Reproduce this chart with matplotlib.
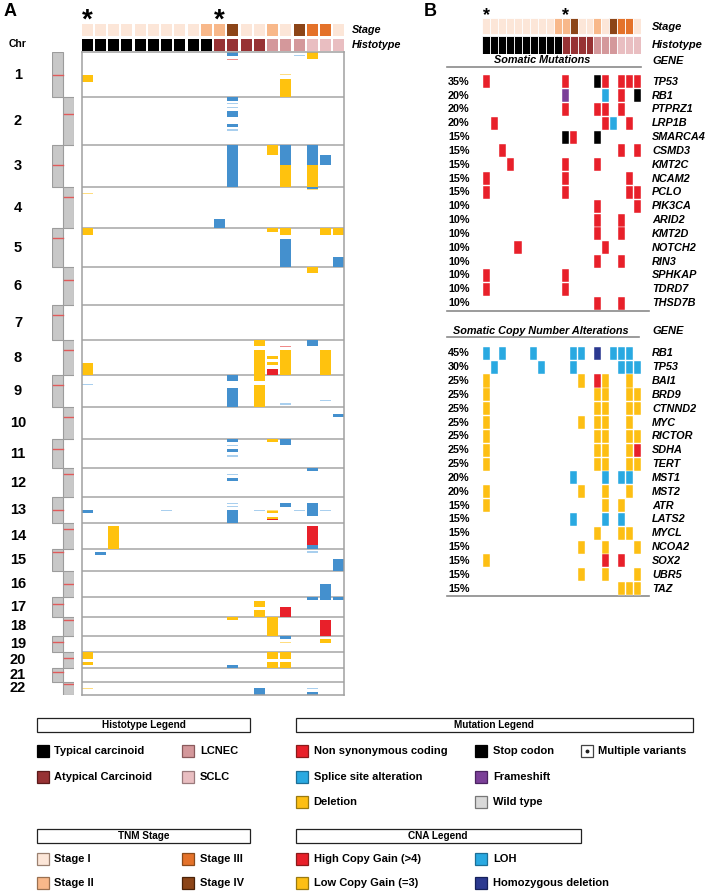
import matplotlib
matplotlib.use('Agg')
import matplotlib.pyplot as plt
from matplotlib.patches import Rectangle
from matplotlib.transforms import blended_transform_factory as blend
import numpy as np

# ---------------- DATA ----------------
n_samples = 20
stage = ['I'] * 9 + ['II', 'II', 'IV', 'I', 'I', 'II', 'I', 'IV', 'III', 'III', 'I']
histotype = ['TC'] * 10 + ['AC'] * 4 + ['LCNEC'] * 3 + ['SCLC'] * 3
asterisk_samples = [0, 10]

# relative drawn size of chromosomes 1..22 and centromere position (fraction)
chrom_size = [45.3, 48, 41.7, 41.3, 38.4, 38.3, 35, 35.3, 32, 32, 29, 28.4,
              26.6, 25.4, 22.3, 26.3, 19.4, 19.3, 16.3, 16, 13.4, 13.3]
centromere = [0.51, 0.35, 0.47, 0.24, 0.26, 0.34, 0.29, 0.27, 0.29, 0.30, 0.33,
              0.21, 0.51, 0.24, 0.13, 0.51, 0.33, 0.16, 0.39, 0.38, 0.25, 0.20]

# CNA segments (chromosome, sample, start frac, end frac, type)
# L=LOH, G=low copy gain, A=high copy gain; lowercase = faint/small
segments = [
    (1, 11, 0.00, 0.08, 'L'), (1, 11, 0.155, 0.175, 'a'), (1, 0, 0.51, 0.66, 'G'),
    (1, 15, 0.49, 0.51, 'g'), (1, 15, 0.59, 1.0, 'G'), (1, 16, 0.066, 0.088, 'l'),
    (1, 17, 0.0, 0.155, 'G'),
    (2, 11, 0.0, 0.07, 'L'), (2, 11, 0.125, 0.145, 'l'), (2, 11, 0.195, 0.215, 'l'),
    (2, 11, 0.28, 0.42, 'L'), (2, 11, 0.55, 0.61, 'L'), (2, 11, 0.667, 0.695, 'l'),
    (3, 11, 0.0, 1.0, 'L'), (3, 14, 0.0, 0.23, 'G'), (3, 15, 0.0, 0.47, 'L'),
    (3, 15, 0.47, 1.0, 'G'), (3, 17, 0.0, 0.47, 'L'), (3, 17, 0.47, 1.0, 'G'),
    (3, 18, 0.24, 0.47, 'L'),
    (4, 0, 0.15, 0.18, 'g'), (4, 10, 0.78, 1.0, 'L'), (4, 17, 0.0, 0.05, 'L'),
    (4, 17, 0.05, 0.07, 'g'),
    (5, 0, 0.0, 0.17, 'G'), (5, 14, 0.0, 0.09, 'G'), (5, 15, 0.0, 0.17, 'G'),
    (5, 15, 0.27, 1.0, 'L'), (5, 18, 0.0, 0.17, 'G'), (5, 19, 0.0, 0.17, 'G'),
    (5, 19, 0.755, 1.0, 'L'),
    (6, 17, 0.0, 0.17, 'G'),
    (8, 0, 0.64, 1.0, 'G'), (8, 13, 0.0, 0.17, 'G'), (8, 13, 0.28, 1.0, 'G'),
    (8, 14, 0.45, 0.55, 'G'), (8, 14, 0.63, 0.72, 'G'), (8, 14, 0.82, 1.0, 'A'),
    (8, 15, 0.16, 0.19, 'a'), (8, 15, 0.28, 1.0, 'G'), (8, 17, 0.0, 0.17, 'L'),
    (8, 18, 0.28, 1.0, 'G'),
    (9, 0, 0.26, 0.29, 'l'), (9, 11, 0.0, 0.19, 'L'), (9, 11, 0.40, 1.0, 'L'),
    (9, 13, 0.0, 0.19, 'G'), (9, 13, 0.30, 1.0, 'G'), (9, 15, 0.875, 0.92, 'l'),
    (9, 18, 0.77, 0.80, 'l'),
    (10, 19, 0.21, 0.30, 'L'),
    (11, 11, 0.0, 0.10, 'L'), (11, 11, 0.19, 0.23, 'l'), (11, 11, 0.345, 0.45, 'L'),
    (11, 11, 0.55, 0.60, 'l'), (11, 14, 0.0, 0.11, 'G'), (11, 15, 0.0, 0.21, 'L'),
    (12, 17, 0.0, 0.10, 'L'), (12, 11, 0.20, 0.25, 'l'), (12, 11, 0.35, 0.45, 'L'),
    (13, 0, 0.50, 0.62, 'L'), (13, 6, 0.49, 0.53, 'l'), (13, 11, 0.24, 0.27, 'l'),
    (13, 11, 0.35, 0.39, 'l'), (13, 11, 0.51, 1.0, 'L'), (13, 13, 0.49, 0.53, 'l'),
    (13, 14, 0.49, 0.54, 'g'), (13, 14, 0.54, 0.62, 'G'), (13, 14, 0.75, 0.83, 'G'),
    (13, 14, 0.83, 0.87, 'A'), (13, 15, 0.25, 0.38, 'L'), (13, 16, 0.49, 0.53, 'l'),
    (13, 17, 0.25, 0.73, 'L'), (13, 18, 0.49, 0.53, 'l'),
    (14, 2, 0.12, 1.0, 'G'), (14, 17, 0.12, 0.87, 'A'), (14, 17, 0.87, 1.0, 'L'),
    (15, 1, 0.16, 0.30, 'L'), (15, 17, 0.12, 0.18, 'l'), (15, 19, 0.45, 1.0, 'L'),
    (16, 18, 0.51, 1.0, 'L'),
    (17, 13, 0.17, 0.50, 'G'), (17, 13, 0.67, 1.0, 'G'), (17, 15, 0.50, 1.0, 'A'),
    (17, 17, 0.0, 0.15, 'L'), (17, 18, 0.0, 0.15, 'L'), (17, 19, 0.0, 0.15, 'L'),
    (18, 11, 0.0, 0.15, 'G'), (18, 14, 0.0, 1.0, 'G'), (18, 18, 0.17, 1.0, 'A'),
    (19, 15, 0.0, 0.18, 'L'), (19, 15, 0.37, 0.43, 'g'), (19, 18, 0.18, 0.41, 'G'),
    (20, 0, 0.0, 0.40, 'G'), (20, 0, 0.58, 0.79, 'G'), (20, 11, 0.79, 1.0, 'L'),
    (20, 14, 0.0, 0.40, 'G'), (20, 14, 0.58, 1.0, 'G'), (20, 15, 0.0, 0.40, 'G'),
    (20, 15, 0.58, 1.0, 'G'),
    (22, 0, 0.45, 0.53, 'g'), (22, 13, 0.50, 1.0, 'L'), (22, 17, 0.45, 0.53, 'l'),
    (22, 17, 0.77, 1.0, 'L'),
]

# Panel B: somatic mutations (N=non synonymous, S=splice, X=stop, F=frameshift)
mut_genes = ['TP53', 'RB1', 'PTPRZ1', 'LRP1B', 'SMARCA4', 'CSMD3', 'KMT2C', 'NCAM2',
             'PCLO', 'PIK3CA', 'ARID2', 'KMT2D', 'NOTCH2', 'RIN3', 'SPHKAP', 'TDRD7', 'THSD7B']
mut_pct = ['35%', '20%', '20%', '20%', '15%', '15%', '15%', '15%', '15%', '10%',
           '10%', '10%', '10%', '10%', '10%', '10%', '10%']
mut_calls = {
    'TP53': {'N': [0, 10, 15, 17, 18, 19], 'X': [14]},
    'RB1': {'F': [10], 'S': [15], 'N': [17], 'X': [19]},
    'PTPRZ1': {'N': [10, 14, 15, 17]},
    'LRP1B': {'N': [1, 15, 18], 'S': [16]},
    'SMARCA4': {'X': [10, 14], 'N': [11]},
    'CSMD3': {'N': [2, 17, 19]},
    'KMT2C': {'N': [3, 10, 14]},
    'NCAM2': {'N': [0, 10, 18]},
    'PCLO': {'N': [0, 10, 18, 19]},
    'PIK3CA': {'N': [14, 19]},
    'ARID2': {'N': [14, 17]},
    'KMT2D': {'N': [14, 17]},
    'NOTCH2': {'N': [4, 15]},
    'RIN3': {'N': [14, 17]},
    'SPHKAP': {'N': [0, 10]},
    'TDRD7': {'N': [0, 10]},
    'THSD7B': {'N': [14, 17]},
}

# Panel B: somatic copy number alterations (L=LOH, G=low gain, A=high gain, H=hom. deletion)
cna_genes = ['RB1', 'TP53', 'BAI1', 'BRD9', 'CTNND2', 'MYC', 'RICTOR', 'SDHA', 'TERT',
             'MST1', 'MST2', 'ATR', 'LATS2', 'MYCL', 'NCOA2', 'SOX2', 'UBR5', 'TAZ']
cna_pct = ['45%', '30%', '25%', '25%', '25%', '25%', '25%', '25%', '25%',
           '20%', '20%', '15%', '15%', '15%', '15%', '15%', '15%', '15%']
cna_calls = {
    'RB1': {'L': [0, 2, 6, 11, 12, 16, 17, 18], 'H': [14]},
    'TP53': {'L': [1, 7, 11, 17, 18, 19]},
    'BAI1': {'G': [0, 12, 15, 18], 'A': [14]},
    'BRD9': {'G': [0, 14, 15, 18, 19]},
    'CTNND2': {'G': [0, 14, 15, 18, 19]},
    'MYC': {'G': [0, 12, 14, 15, 18]},
    'RICTOR': {'G': [0, 14, 15, 18, 19]},
    'SDHA': {'G': [0, 14, 15, 18], 'A': [19]},
    'TERT': {'G': [0, 14, 15, 18, 19]},
    'MST1': {'L': [11, 15, 17, 18]},
    'MST2': {'G': [0, 12, 15, 18]},
    'ATR': {'G': [0, 15, 17]},
    'LATS2': {'L': [11, 15, 17]},
    'MYCL': {'G': [14, 17, 18]},
    'NCOA2': {'G': [12, 15, 19]},
    'SOX2': {'G': [0], 'A': [15, 17]},
    'UBR5': {'G': [12, 15, 19]},
    'TAZ': {'G': [17, 18, 19]},
}

# ---------------- STYLE ----------------
stage_col = {'I': '#FCE6D8', 'II': '#F8B88A', 'III': '#E4722A', 'IV': '#8C4518'}
hist_col = {'TC': '#000000', 'AC': '#973234', 'LCNEC': '#D4989B', 'SCLC': '#E9BEC1'}
seg_col = {'L': '#4490CE', 'G': '#FFC20E', 'A': '#E8202A',
           'l': '#A9CFEE', 'g': '#FFDD80', 'a': '#F08A8A'}
mut_col = {'N': '#E8202A', 'S': '#29A9E1', 'X': '#000000', 'F': '#7B3F98'}
cnaB_col = {'L': '#29A9E1', 'G': '#FDBF14', 'A': '#E8202A', 'H': '#2B3990'}

FONT = ['Liberation Sans', 'DejaVu Sans']
NARROW = ['Liberation Sans Narrow', 'Liberation Sans', 'DejaVu Sans']
plt.rcParams['font.family'] = FONT

W, H = 709, 891
fig = plt.figure(figsize=(W / 100, H / 100), dpi=100)


def px_axes(left, top, width, height):
    ax = fig.add_axes([left / W, 1 - (top + height) / H, width / W, height / H])
    return ax


bg = px_axes(0, 0, W, H)
bg.set_xlim(0, W)
bg.set_ylim(H, 0)
bg.axis('off')

# ---------------- PANEL A ----------------
bar_w = 0.83
sizes = np.array(chrom_size)
starts = np.concatenate([[0], np.cumsum(sizes)[:-1]])
total = sizes.sum()

axA = px_axes(81.7, 52, 262.6, 643)
axA.set_xlim(0, n_samples - 1 + bar_w)
axA.set_ylim(total, 0)
axA.set_xticks([]); axA.set_yticks([])
for sp in axA.spines.values():
    sp.set_color('#A0A0A0'); sp.set_linewidth(1.1)
for (c, s, a, b, t) in segments:
    y0 = starts[c - 1] + a * sizes[c - 1]
    h = max((b - a) * sizes[c - 1], 0.9)
    axA.add_patch(Rectangle((s, y0), bar_w, h, fc=seg_col[t], ec='none', zorder=2))
for y in starts[1:]:
    axA.axhline(y, color='#A6A6A6', lw=1.1, zorder=1)

# ideogram
axI = px_axes(52.3, 52, 22, 643)
axI.set_xlim(0, 2); axI.set_ylim(total, 0); axI.axis('off')
for i in range(22):
    col = i % 2
    axI.add_patch(Rectangle((col, starts[i]), 1, sizes[i], fc='#C8C8C8', ec='#9C9C9C', lw=0.8))
    yc = starts[i] + centromere[i] * sizes[i]
    axI.plot([col + 0.04, col + 0.96], [yc, yc], color='#E05A5A', lw=1.0)

trY = blend(bg.transData, axA.transData)
for i in range(22):
    bg.text(18, starts[i] + sizes[i] / 2, str(i + 1), transform=trY, ha='center',
            va='center', fontsize=10.5, fontweight='bold')
bg.text(18, 44, 'Chr', ha='center', va='center', fontsize=7.5, fontweight='bold')

# stage / histotype A
axSA = px_axes(81.7, 24, 262.6, 27)
axSA.set_xlim(0, n_samples - 1 + bar_w); axSA.set_ylim(1.96, 0); axSA.axis('off')
for i in range(n_samples):
    axSA.add_patch(Rectangle((i, 0), bar_w, 0.84, fc=stage_col[stage[i]], ec='none'))
    axSA.add_patch(Rectangle((i, 1.12), bar_w, 0.84, fc=hist_col[histotype[i]], ec='none'))
trXA = blend(axSA.transData, bg.transData)
for s in asterisk_samples:
    bg.text(s + bar_w / 2, 21, '*', transform=trXA, ha='center', va='center',
            fontsize=20, fontweight='bold')
bg.text(352, 30, 'Stage', ha='left', va='center', fontsize=7.8, fontweight='bold', style='italic')
bg.text(352, 45.5, 'Histotype', ha='left', va='center', fontsize=7.8, fontweight='bold', style='italic')
bg.text(4, 11, 'A', ha='left', va='center', fontsize=13, fontweight='bold')

# ---------------- PANEL B ----------------
bx0, bw = 482.3, 158.8
axSB = px_axes(bx0, 18, bw, 35.5)
axSB.set_xlim(0, n_samples); axSB.set_ylim(2, 0); axSB.axis('off')
for i in range(n_samples):
    axSB.add_patch(Rectangle((i, 0), 1, 0.88, fc=stage_col[stage[i]], ec='white', lw=0.6))
    axSB.add_patch(Rectangle((i, 1.0), 1, 1.0, fc=hist_col[histotype[i]], ec='white', lw=0.6))
trXB = blend(axSB.transData, bg.transData)
for s in asterisk_samples:
    bg.text(s + 0.5, 16, '*', transform=trXB, ha='center', va='center',
            fontsize=13, fontweight='bold')
bg.text(424, 11, 'B', ha='left', va='center', fontsize=13, fontweight='bold')
bg.text(652, 27, 'Stage', ha='left', va='center', fontsize=8, fontweight='bold', style='italic')
bg.text(652, 45.5, 'Histotype', ha='left', va='center', fontsize=8, fontweight='bold', style='italic')


def grid_block(top, genes, pct, calls, colors):
    ax = px_axes(bx0, top, bw, 13.84 * len(genes))
    ax.set_xlim(0, n_samples); ax.set_ylim(len(genes), 0); ax.axis('off')
    for r, g in enumerate(genes):
        for code, cols in calls[g].items():
            for c in cols:
                ax.add_patch(Rectangle((c + 0.05, r + 0.03), 0.9, 0.94,
                                       fc=colors[code], ec='white', lw=0.3))
    tr = blend(bg.transData, ax.transData)
    for r, g in enumerate(genes):
        bg.text(448, r + 0.5, pct[r], transform=tr, ha='left', va='center',
                fontsize=7.8, fontweight='bold')
        bg.text(652, r + 0.5, g, transform=tr, ha='left', va='center',
                fontsize=7.8, fontweight='bold', style='italic')
    return ax


grid_block(74.8, mut_genes, mut_pct, mut_calls, mut_col)
grid_block(346.4, cna_genes, cna_pct, cna_calls, cnaB_col)

line_kw = dict(color='#8A8A8A', lw=1.2)
bg.plot([446.7, 641], [66.7, 66.7], **line_kw)
bg.plot([446.7, 649.3], [310.7, 310.7], **line_kw)
bg.plot([446.7, 639], [337.3, 337.3], **line_kw)
bg.plot([446.7, 649.3], [596, 596], **line_kw)
bg.text(542, 60, 'Somatic Mutations', ha='center', va='center', fontsize=7.8,
        fontweight='bold', style='italic')
bg.text(541, 331, 'Somatic Copy Number Alterations', ha='center', va='center',
        fontsize=7.8, fontweight='bold', style='italic')
bg.text(652, 61, 'GENE', ha='left', va='center', fontsize=8, fontweight='bold', style='italic')
bg.text(652, 331, 'GENE', ha='left', va='center', fontsize=8, fontweight='bold', style='italic')

# ---------------- LEGENDS ----------------
def legend_box(x0, x1, y0, y1, title):
    bg.add_patch(Rectangle((x0, y0), x1 - x0, y1 - y0, fc='white', ec='#222222', lw=0.9))
    bg.text((x0 + x1) / 2, (y0 + y1) / 2 + 0.5, title, ha='center', va='center',
            fontsize=7.2, fontweight='bold', family=NARROW)


def legend_item(x, y, label, fc, ec, dot=False):
    bg.add_patch(Rectangle((x, y - 6), 12, 12, fc=fc, ec=ec, lw=0.9))
    if dot:
        bg.plot([x + 6], [y], marker='o', ms=1.8, color='#222222')
    bg.text(x + 18, y, label, ha='left', va='center', fontsize=8, fontweight='bold', family=NARROW)


legend_box(37, 250, 718, 732, 'Histotype Legend')
legend_box(295.5, 693, 718, 732, 'Mutation Legend')
legend_box(37, 250, 829, 842.5, 'TNM Stage')
legend_box(295.5, 580.5, 829, 842.5, 'CNA Legend')

r1, r2, r3 = 751, 776.7, 802
legend_item(36.5, r1, 'Typical carcinoid', hist_col['TC'], '#000000')
legend_item(36.5, r2, 'Atypical Carcinoid', hist_col['AC'], '#5A1A1A')
legend_item(182, r1, 'LCNEC', hist_col['LCNEC'], '#8A5A5C')
legend_item(182, r2, 'SCLC', hist_col['SCLC'], '#9A7A7C')
legend_item(295.5, r1, 'Non synonymous coding', mut_col['N'], '#8B1A1A')
legend_item(295.5, r2, 'Splice site alteration', mut_col['S'], '#1C6E96')
legend_item(295.5, r3, 'Deletion', '#FDBF14', '#9A7A10')
legend_item(475, r1, 'Stop codon', '#000000', '#000000')
legend_item(475, r2, 'Frameshift', mut_col['F'], '#4A2260')
legend_item(475, r3, 'Wild type', '#D9D9D9', '#777777')
legend_item(580.5, r1, 'Multiple variants', 'white', '#444444', dot=True)

s1, s2 = 859.3, 882.7
legend_item(36.5, s1, 'Stage I', stage_col['I'], '#9A8070')
legend_item(36.5, s2, 'Stage II', stage_col['II'], '#9A7050')
legend_item(182, s1, 'Stage III', stage_col['III'], '#8A4A1A')
legend_item(182, s2, 'Stage IV', stage_col['IV'], '#4A2208')
legend_item(295.5, s1, 'High Copy Gain (>4)', cnaB_col['A'], '#8B1A1A')
legend_item(295.5, s2, 'Low Copy Gain (=3)', cnaB_col['G'], '#9A7A10')
legend_item(475, s1, 'LOH', cnaB_col['L'], '#1C6E96')
legend_item(475, s2, 'Homozygous deletion', cnaB_col['H'], '#15205A')

fig.savefig('out.png', dpi=100)
